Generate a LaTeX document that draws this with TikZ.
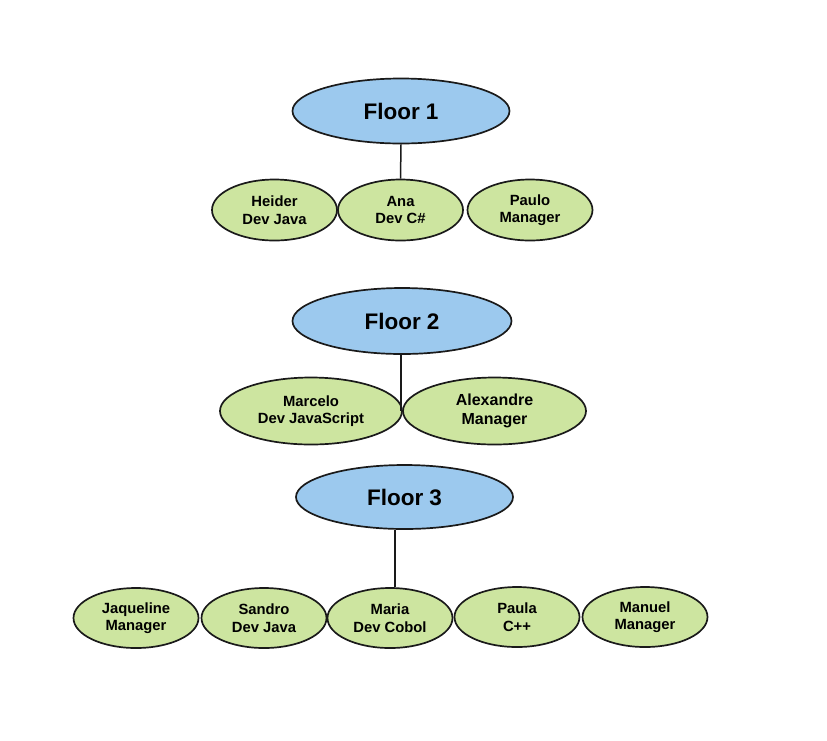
\documentclass[tikz,border=0pt]{standalone}
\usepackage{fontspec}
\setmainfont{Liberation Sans}
\usetikzlibrary{shapes.geometric}
\definecolor{floorblue}{RGB}{156,201,238}
\definecolor{persongreen}{RGB}{205,229,160}
\definecolor{edgedark}{RGB}{26,26,26}
\tikzset{
  floorbox/.style={ellipse, draw=edgedark, line width=1.7pt, fill=floorblue, inner sep=0pt,
    minimum width=217pt, minimum height=65pt, font=\fontsize{22.5}{26}\selectfont\bfseries},
  personbox/.style={ellipse, draw=edgedark, line width=1.7pt, fill=persongreen, inner sep=0pt,
    minimum width=125pt, minimum height=61pt, align=center, font=\fontsize{14.8}{17.5}\selectfont\bfseries},
  widebox/.style={personbox, minimum width=182pt, minimum height=67pt},
  link/.style={draw=edgedark, line width=1.5pt}
}
\begin{document}
\begin{tikzpicture}[x=1pt,y=-1pt]
\useasboundingbox (0,0) rectangle (827,740);
% Floor 1
\node[floorbox] (f1) at (401,111) {Floor 1};
\node[personbox] (heider) at (274.5,210) {Heider\\Dev Java};
\node[personbox] (ana) at (400.5,210) {Ana\\Dev C\#};
\node[personbox] (paulo) at (530,210) {Paulo\\Manager};
\draw[link] (f1.south) -- (ana.north);
% Floor 2
\node[floorbox, minimum width=219pt, minimum height=66pt] (f2) at (402,321) {Floor 2};
\node[widebox] (marcelo) at (311,411) {Marcelo\\Dev JavaScript};
\node[widebox, minimum width=183pt, font=\fontsize{16}{18.5}\selectfont\bfseries] (alex) at (494.5,411) {Alexandre\\Manager};
\coordinate (c2) at (401,411);
\draw[link] (f2.south -| c2) -- (c2);
% Floor 3
\node[floorbox, minimum height=64pt] (f3) at (404.5,497) {Floor 3};
\node[personbox, minimum height=60pt] (jaq) at (136,618) {Jaqueline\\Manager};
\node[personbox, minimum height=60pt] (sandro) at (264,618) {Sandro\\Dev Java};
\node[personbox, minimum height=60pt] (maria) at (390,618) {Maria\\Dev Cobol};
\node[personbox, minimum height=60pt] (paula) at (517,617) {Paula\\C++};
\node[personbox, minimum height=60pt] (manuel) at (645,617) {Manuel\\Manager};
\coordinate (c3) at (395,560);
\draw[link] (f3.south -| c3) -- (maria.north -| c3);
\end{tikzpicture}
\end{document}
